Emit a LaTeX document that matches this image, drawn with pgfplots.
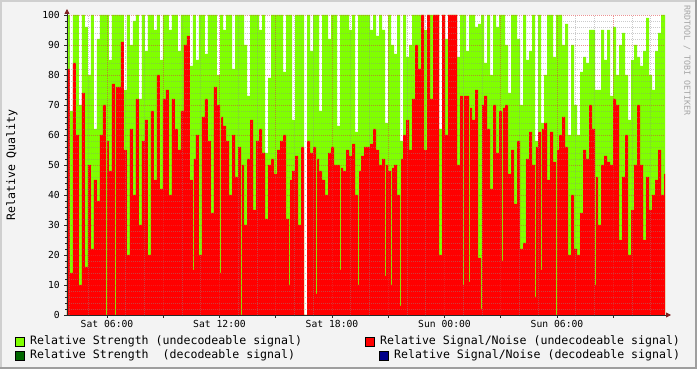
\documentclass[border=0pt]{standalone}
\usepackage{pgfplots}
\pgfplotsset{compat=1.18}
\usepackage{pgfplotstable}
\usepackage{fontspec}
\setmainfont{DejaVu Sans Mono}
\usetikzlibrary{arrows.meta}
\definecolor{strength}{RGB}{128,255,0}
\definecolor{snr}{RGB}{255,0,0}
\definecolor{strengthdec}{RGB}{0,102,0}
\definecolor{snrdec}{RGB}{0,0,136}
\definecolor{backc}{RGB}{243,243,243}
\definecolor{gridc}{RGB}{140,140,140}
\definecolor{mgridc}{RGB}{220,60,60}
\definecolor{arrowc}{RGB}{127,31,31}
\definecolor{axisc}{RGB}{40,40,40}
\definecolor{wmark}{RGB}{165,165,165}
\definecolor{shadea}{RGB}{207,207,207}
\definecolor{shadeb}{RGB}{158,158,158}

\pgfplotstableread{
x G R
0 100 82
3 68 14
6 100 84
9 100 60
12 70 10
15 100 74
18 96 16
21 80 50
24 100 22
27 62 45
30 92 38
33 100 60
36 100 70
39 100 0
40 100 58
42 85 48
45 100 77
48 100 0
49 100 76
51 100 76
54 100 91
57 75 55
60 100 20
63 90 62
66 98 40
69 100 72
72 72 30
75 100 58
78 88 65
81 100 20
84 100 68
87 95 45
90 100 80
93 85 42
96 100 72
99 100 75
102 95 40
105 100 72
108 100 62
111 88 55
114 100 68
117 100 90
120 100 93
123 83 45
126 100 15
127 100 52
129 85 60
132 100 20
135 100 66
138 87 72
141 100 58
144 100 34
147 100 76
150 80 70
153 100 14
154 100 66
156 95 63
159 100 58
162 100 40
165 82 60
168 100 46
171 100 56
174 100 0
175 100 50
177 90 30
180 73 52
183 100 65
186 100 35
189 100 58
192 95 62
195 100 54
198 54 32
201 79 50
204 100 52
207 100 47
210 100 55
213 100 58
216 81 60
219 100 32
222 100 10
223 100 45
225 65 48
228 100 53
231 100 30
234 100 56
237 0 0
240 100 58
243 88 54
246 100 56
249 100 7
250 100 52
252 68 48
255 100 45
258 100 40
261 92 54
264 100 56
267 100 50
270 63 50
273 100 15
274 100 49
276 100 48
279 100 55
282 95 53
285 100 57
288 61 40
291 100 10
292 100 48
294 100 53
297 100 56
300 100 56
303 95 57
306 100 62
309 93 55
312 100 50
315 95 52
318 64 13
319 64 50
321 100 48
324 90 10
325 90 49
327 87 50
330 100 40
333 58 3
334 58 52
336 100 60
339 86 65
342 90 55
345 100 72
348 100 90
351 100 82
354 100 100
357 95 55
360 100 100
363 100 72
366 100 100
369 100 100
372 62 20
375 100 100
378 92 60
381 100 100
384 100 100
387 100 100
390 86 50
393 100 73
396 100 10
397 100 73
399 88 73
402 100 11
403 100 69
405 100 65
408 96 75
411 97 19
414 100 2
415 100 70
417 84 73
420 100 62
423 80 42
426 100 70
429 96 54
432 100 68
435 100 18
436 100 69
438 90 70
441 74 47
444 100 55
447 100 37
450 92 58
453 70 22
456 100 24
459 85 52
462 88 61
465 100 50
468 58 6
469 58 56
471 100 61
474 64 15
475 64 62
477 80 64
480 100 45
483 100 61
486 86 51
489 100 0
490 100 55
492 100 60
495 90 66
498 97 56
501 60 20
504 90 40
507 70 22
510 60 20
513 81 34
516 86 55
519 84 52
522 95 70
525 95 62
528 75 10
529 75 46
531 75 30
534 95 50
537 85 53
540 95 51
543 73 50
546 96 72
549 80 70
552 90 25
555 94 46
558 80 60
561 65 20
564 85 35
567 90 50
570 86 70
573 83 50
576 88 25
579 99 46
582 80 35
585 75 40
588 88 45
591 94 55
594 100 40
597 100 47
598 100 47
}\data

\newcommand{\legfont}{\fontsize{11.58}{13}\selectfont}
\newcommand{\axfont}{\fontsize{9.7}{11}\selectfont}

\begin{document}
\begin{tikzpicture}
\path[use as bounding box] (-67pt,-54pt) rectangle (630pt,315pt);
\fill[backc] (-67pt,-54pt) rectangle (630pt,315pt);
\draw[shadea, line width=2pt] (-66pt,-54pt) -- (-66pt,314pt) -- (630pt,314pt);
\draw[shadeb, line width=2pt] (-67pt,-53pt) -- (629pt,-53pt) -- (629pt,315pt);
\begin{axis}[
  at={(0pt,0pt)}, anchor=south west,
  scale only axis, width=598pt, height=300pt,
  xmin=0, xmax=598, ymin=0, ymax=100,
  axis on top,
  axis background/.style={fill=white},
  axis x line*=bottom, axis y line*=left,
  axis line style={draw=axisc, line width=0.8pt, shorten >=-6pt, -{Triangle[length=5pt,width=5pt,color=arrowc,fill=arrowc]}},
  ytick={0,10,...,100},
  minor y tick num=4,
  xtick={40,96.25,152.5,208.75,265,321.25,377.5,433.75,490,546.25},
  xticklabels={Sat 06:00,,Sat 12:00,,Sat 18:00,,Sun 00:00,,Sun 06:00,},
  minor xtick={2.5,21.25,58.75,77.5,115,133.75,171.25,190,227.5,246.25,283.75,302.5,340,358.75,396.25,415,452.5,471.25,508.75,527.5,565,583.75},
  grid=both,
  major grid style={mgridc, dash pattern=on 1pt off 1pt, opacity=0.55, line width=0.8pt},
  minor grid style={gridc, dash pattern=on 1pt off 1pt, opacity=0.45, line width=0.8pt},
  tick align=outside,
  major tick length=3pt, minor tick length=1.5pt,
  tick style={axisc, line width=0.7pt},
  /pgf/number format/assume math mode=true,
  ticklabel style={font=\axfont},
  yticklabel style={anchor=east, inner sep=0pt, xshift=-4pt},
  xticklabel style={anchor=north, inner sep=0pt, yshift=-2pt},
]
\addplot[const plot, fill=strength, draw=none] table[x=x, y=G]{\data} \closedcycle;
\addplot[const plot, fill=snr, draw=none] table[x=x, y=R]{\data} \closedcycle;
\end{axis}
\node[rotate=90, font=\legfont, inner sep=0pt] at (-55pt,150pt) {Relative Quality};
\node[rotate=-90, anchor=west, font=\fontsize{8.3}{9}\selectfont, text=wmark, inner sep=0pt] at (620pt,310pt) {RRDTOOL / TOBI OETIKER};
% legend
\filldraw[fill=strength, draw=black, line width=0.8pt] (-52pt,-22pt) rectangle (-43pt,-31pt);
\node[anchor=west, inner sep=0pt, font=\legfont] at (-37pt,-26.5pt) {Relative Strength (undecodeable signal)};
\filldraw[fill=snr, draw=black, line width=0.8pt] (298pt,-22pt) rectangle (307pt,-31pt);
\node[anchor=west, inner sep=0pt, font=\legfont] at (313pt,-26.5pt) {Relative Signal/Noise (undecodeable signal)};
\filldraw[fill=strengthdec, draw=black, line width=0.8pt] (-52pt,-36pt) rectangle (-43pt,-45pt);
\node[anchor=west, inner sep=0pt, font=\legfont] at (-37pt,-40.5pt) {Relative Strength\space\space(decodeable signal)};
\filldraw[fill=snrdec, draw=black, line width=0.8pt] (312pt,-36pt) rectangle (321pt,-45pt);
\node[anchor=west, inner sep=0pt, font=\legfont] at (327pt,-40.5pt) {Relative Signal/Noise (decodeable signal)};
\end{tikzpicture}
\end{document}
